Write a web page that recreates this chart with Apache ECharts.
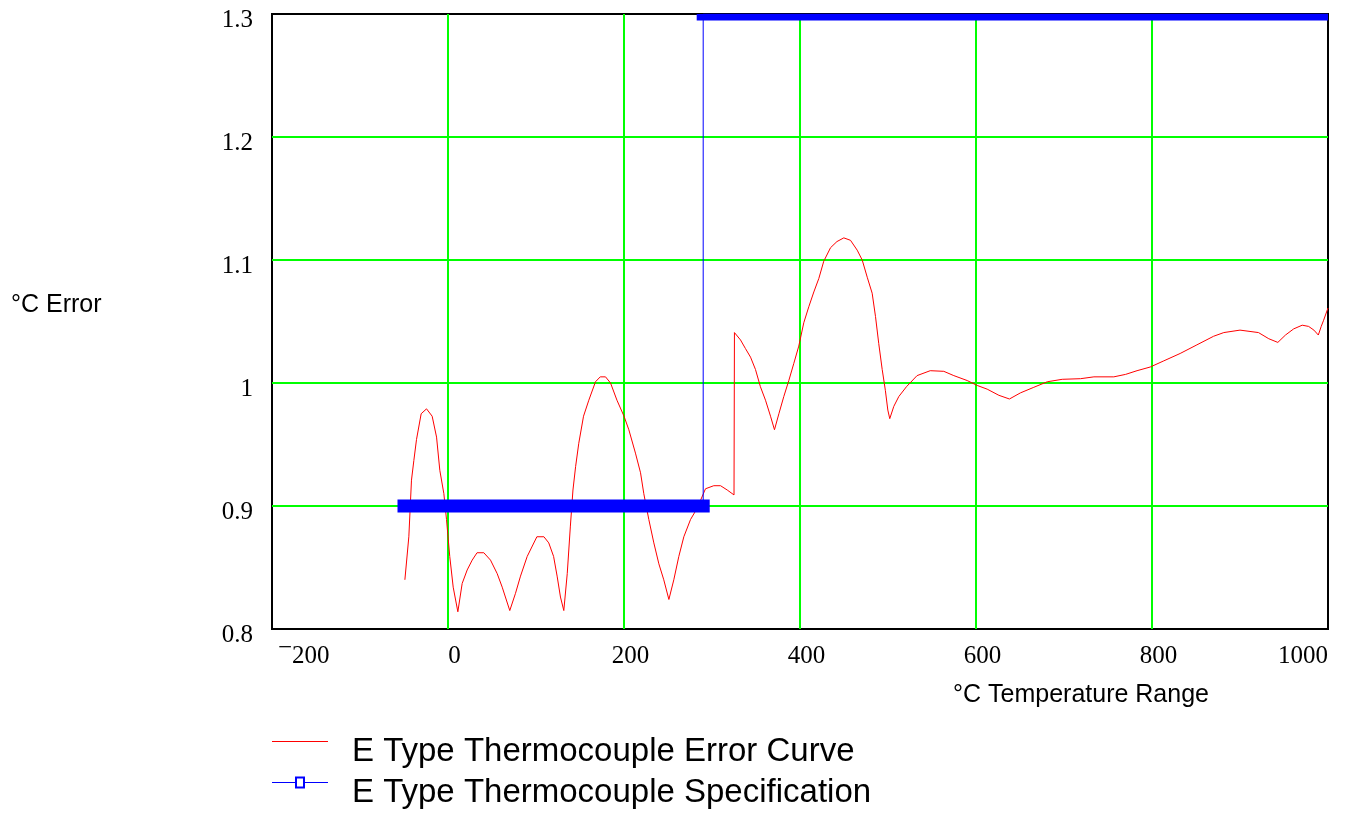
<!DOCTYPE html>
<html>
<head>
<meta charset="utf-8">
<title>E Type Thermocouple Error</title>
<script src="https://cdn.jsdelivr.net/npm/echarts@6/dist/echarts.min.js"></script>
<style>
  html, body { margin: 0; padding: 0; background: #ffffff; }
  #chart { width: 1345px; height: 814px; }
</style>
</head>
<body>
<div id="chart"></div>
<script>
// Error curve: temperature (°C) and error (°C)
const curveTemps = [
  -49, -44.5, -41.5, -38.8, -35.8, -30.5, -24.4, -18, -13, -9.3, -4.7, -1.7, 2, 5.9, 11.2,
  16.1, 21.8, 27.5, 33, 40.7, 48.3, 55.9, 61.6, 70.2, 76.7, 82.4, 90, 101, 109, 114.5,
  120, 124, 127.8, 131.6, 135.5, 139, 142, 145, 148.6, 154, 160, 167.6, 173, 179, 184.7,
  192, 200, 205.5, 213, 218.8, 222.5, 228.2, 233.9, 239.6, 245.2, 251, 256.6, 262.3, 268,
  275.6, 283, 292.6, 302, 309.7, 317.3, 325, 325.5, 332.4, 338, 343.8, 349.4, 355, 360.8,
  366.5, 371, 376, 381.6, 387.3, 393, 398.6, 404.3, 410, 415.7, 421.4, 427, 434.7, 442,
  449.8, 457.4, 465, 470.7, 476.4, 482, 485.8, 489.5, 493.4, 497, 499.8, 502, 506.6, 512.3,
  521, 533, 548, 563.4, 574.8, 590, 601.4, 612.7, 626, 638, 650.6, 665.7, 681, 698, 718.8,
  734, 756.6, 770, 783, 798, 813.4, 832, 851, 870, 881.6, 900, 921, 932.7, 943, 951.7,
  961, 970.7, 978, 984, 989, 992.3, 995, 1000
];
const curveErrors = [
  0.840, 0.875, 0.921, 0.937, 0.954, 0.975, 0.979, 0.973, 0.956, 0.929, 0.910, 0.889, 0.859, 0.834, 0.814,
  0.837, 0.848, 0.856, 0.862, 0.862, 0.856, 0.845, 0.834, 0.815, 0.829, 0.843, 0.859, 0.875, 0.875, 0.870,
  0.859, 0.843, 0.826, 0.815, 0.845, 0.883, 0.913, 0.932, 0.951, 0.973, 0.986, 1.001, 1.005, 1.005, 1.000,
  0.986, 0.973, 0.962, 0.943, 0.927, 0.910, 0.889, 0.870, 0.853, 0.840, 0.824, 0.840, 0.859, 0.875,
  0.889, 0.898, 0.914, 0.9165, 0.9165, 0.913, 0.909, 1.041, 1.035, 1.028, 1.021, 1.011, 0.997, 0.986,
  0.973, 0.962, 0.975, 0.989, 1.002, 1.016, 1.030, 1.049, 1.062, 1.074, 1.085, 1.099, 1.110, 1.115,
  1.118, 1.116, 1.108, 1.100, 1.086, 1.073, 1.054, 1.032, 1.011, 0.994, 0.978, 0.971, 0.981, 0.989,
  0.997, 1.006, 1.010, 1.0095, 1.006, 1.002, 0.998, 0.995, 0.990, 0.987, 0.992, 0.9965, 1.001, 1.003, 1.0035,
  1.005, 1.005, 1.007, 1.010, 1.013, 1.018, 1.024, 1.031, 1.038, 1.041, 1.043, 1.041, 1.036, 1.033, 1.039,
  1.044, 1.047, 1.046, 1.043, 1.039, 1.046, 1.051, 1.061
];

// Specification limit: step from 0.9 °C to 1.3 °C at 290 °C
const specTemps = [-50, 290, 290, 1000];
const specLimits = [0.9, 0.9, 1.3, 1.3];

// Axis ticks
const xTicks = [-200, 0, 200, 400, 600, 800, 1000];
const yTicks = [0.8, 0.9, 1.0, 1.1, 1.2, 1.3];

const CURVE_NAME = 'E Type Thermocouple Error Curve';
const SPEC_NAME = 'E Type Thermocouple Specification';

const curveData = curveTemps.map((t, i) => [t, curveErrors[i]]);
const specLine = specTemps.map((t, i) => [t, specLimits[i]]);
// flat stretches of the spec drawn as a heavy band
const specBands = [];
for (let i = 0; i < specTemps.length - 1; i++) {
  if (specLimits[i] === specLimits[i + 1]) {
    specBands.push([specTemps[i], specTemps[i + 1], specLimits[i]]);
  }
}

const serif = '"Liberation Serif", "Times New Roman", serif';
const sans = '"Liberation Sans", Arial, sans-serif';

// legend glyphs: line sits near the top of a 56x32 box so it lines up with the upper part of the text
const DOT_TOP = 'M0,0H0.01V0.01H0Z';
const DOT_BOTTOM = 'M0,32H0.01V32.01H0Z';
const ICON_CURVE = 'path://' + DOT_TOP + ' M0,5.5H56V6.5H0Z ' + DOT_BOTTOM;
const ICON_SPEC = 'path://' + DOT_TOP +
  ' M0,5.5H23V6.5H0Z M33,5.5H56V6.5H33Z M23,0H33V12H23Z M25,2V10H31V2Z ' + DOT_BOTTOM;

const chart = echarts.init(document.getElementById('chart'), null, { renderer: 'canvas' });

chart.setOption({
  animation: false,
  backgroundColor: '#ffffff',
  grid: {
    left: 272, right: 17, top: 14, bottom: 185,
    show: true, borderColor: '#000000', borderWidth: 2,
    outerBoundsMode: 'none'
  },
  legend: {
    orient: 'vertical',
    left: 272,
    top: 731,
    padding: 0,
    itemWidth: 56,
    itemHeight: 32,
    itemGap: 0,
    symbolKeepAspect: true,
    itemStyle: { borderWidth: 0 },
    textStyle: {
      fontFamily: sans, fontSize: 33, lineHeight: 41, color: '#000000',
      padding: [0, 0, 0, 19]
    },
    data: [
      { name: CURVE_NAME, icon: ICON_CURVE, itemStyle: { color: '#ff0000', borderWidth: 0 } },
      { name: SPEC_NAME, icon: ICON_SPEC, itemStyle: { color: '#0000ff', borderWidth: 0 } }
    ]
  },
  xAxis: {
    type: 'value',
    min: xTicks[0],
    max: xTicks[xTicks.length - 1],
    interval: 200,
    name: '°C Temperature Range',
    nameLocation: 'middle',
    nameGap: 54,
    nameMoveOverlap: false,
    nameTextStyle: {
      fontFamily: sans, fontSize: 25, lineHeight: 25, color: '#000000',
      verticalAlign: 'top', padding: [0, 0, 0, 562]
    },
    axisLine: { show: false },
    axisTick: { show: false },
    splitLine: { show: true, showMinLine: false, showMaxLine: false, lineStyle: { color: '#00ff00', width: 2 } },
    axisLabel: {
      margin: 6.5,
      alignMinLabel: 'left',
      alignMaxLabel: 'right',
      color: '#000000',
      fontFamily: serif,
      fontSize: 25,
      formatter: function (v) {
        if (v < 0) return '{neg|\u2212}{n2|' + Math.abs(v) + '}';
        return '{num|' + v + '}';
      },
      rich: {
        neg: { fontFamily: serif, fontSize: 25, lineHeight: 25, verticalAlign: 'top', color: '#000000', padding: [0, 0, 0, 6] },
        n2: { fontFamily: serif, fontSize: 25, lineHeight: 41, verticalAlign: 'middle', color: '#000000' },
        num: { fontFamily: serif, fontSize: 25, lineHeight: 41, verticalAlign: 'middle', color: '#000000', padding: [0, 0, 0, 13] }
      }
    }
  },
  yAxis: {
    type: 'value',
    min: yTicks[0],
    max: yTicks[yTicks.length - 1],
    interval: 0.1,
    name: '°C Error',
    nameLocation: 'middle',
    nameRotate: 0,
    nameGap: 261,
    nameMoveOverlap: false,
    nameTextStyle: {
      fontFamily: sans, fontSize: 25, lineHeight: 33, color: '#000000',
      align: 'left', verticalAlign: 'bottom'
    },
    axisLine: { show: false },
    axisTick: { show: false },
    splitLine: { show: true, showMinLine: false, showMaxLine: false, lineStyle: { color: '#00ff00', width: 2 } },
    axisLabel: {
      margin: 19,
      color: '#000000',
      fontFamily: serif,
      fontSize: 25,
      lineHeight: 12,
      verticalAlign: 'top',
      formatter: function (v) { return String(+v.toFixed(1)); }
    }
  },
  series: [
    {
      name: CURVE_NAME,
      type: 'line',
      data: curveData,
      symbol: 'none',
      lineStyle: { color: '#ff0000', width: 1 },
      itemStyle: { color: '#ff0000' },
      z: 3
    },
    {
      name: SPEC_NAME,
      type: 'line',
      data: specLine,
      symbol: 'none',
      lineStyle: { color: '#0000ff', width: 1 },
      itemStyle: { color: '#0000ff' },
      z: 4
    },
    {
      name: SPEC_NAME,
      type: 'custom',
      data: specBands,
      encode: { x: [0, 1], y: 2 },
      itemStyle: { color: '#0000ff' },
      z: 5,
      renderItem: function (params, api) {
        const lim = api.value(2);
        const p0 = api.coord([api.value(0), lim]);
        const p1 = api.coord([api.value(1), lim]);
        const half = 6.5;
        const cs = params.coordSys;
        const shape = echarts.graphic.clipRectByRect(
          { x: p0[0] - half, y: p0[1] - half, width: p1[0] - p0[0] + 2 * half, height: 2 * half },
          { x: cs.x, y: cs.y, width: cs.width, height: cs.height }
        );
        if (!shape) return null;
        return { type: 'rect', shape: shape, style: { fill: '#0000ff' } };
      }
    }
  ]
});
</script>
</body>
</html>
